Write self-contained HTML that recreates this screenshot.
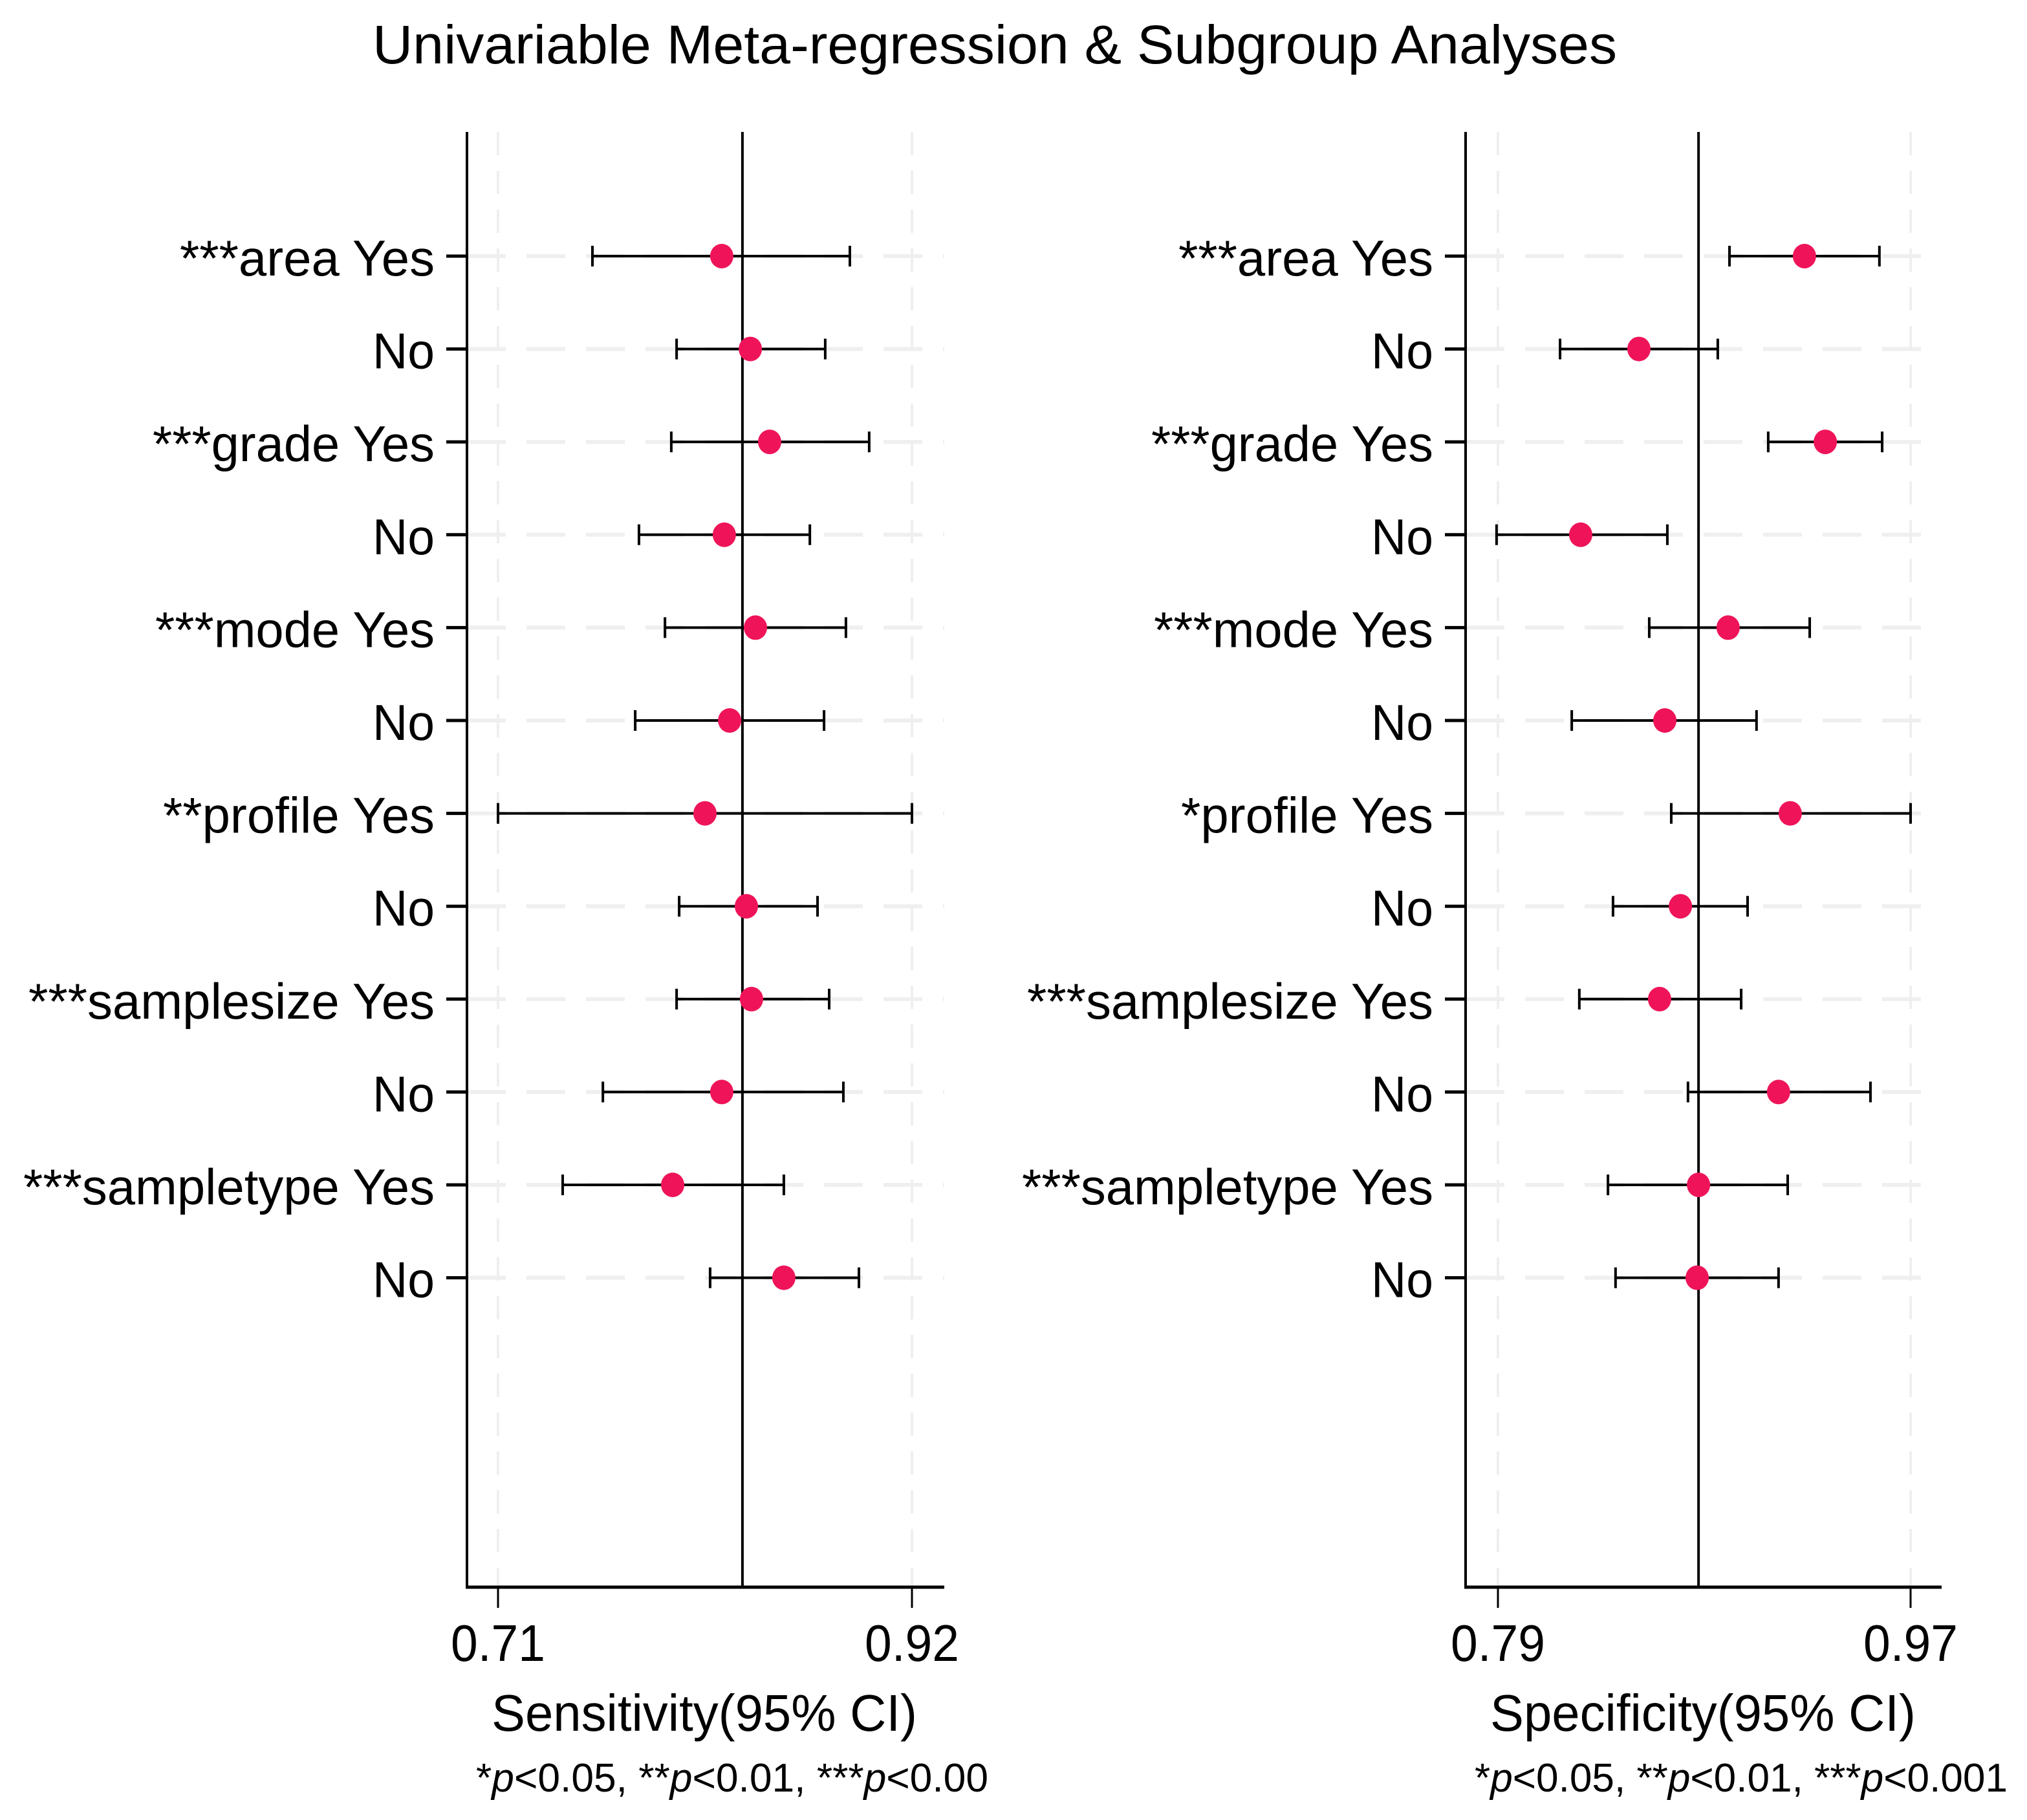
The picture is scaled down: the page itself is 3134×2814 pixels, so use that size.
<!DOCTYPE html>
<html><head><meta charset="utf-8">
<style>
html,body{margin:0;padding:0;background:#fff;}
svg{display:block;}
text{font-family:"Liberation Sans",Arial,sans-serif;fill:#000;}
</style></head>
<body>
<svg id="chart" width="3134" height="2814" viewBox="0 0 1567 1407" xmlns="http://www.w3.org/2000/svg">
<rect width="1567" height="1407" fill="#fff"/>
<text x="288" y="49" font-size="42" textLength="962" lengthAdjust="spacingAndGlyphs">Univariable Meta-regression &amp; Subgroup Analyses</text>
<g id="left"></g>
<g id="right"></g>
</svg>
<script>
const labelsLeft = ["***area Yes","No","***grade Yes","No","***mode Yes","No","**profile Yes","No","***samplesize Yes","No","***sampletype Yes","No"];
const labelsRight = ["***area Yes","No","***grade Yes","No","***mode Yes","No","*profile Yes","No","***samplesize Yes","No","***sampletype Yes","No"];
const sensEst = [0.8235,0.838,0.8478,0.8248,0.8406,0.8275,0.815,0.836,0.8386,0.8235,0.7986,0.855];
const sensLo  = [0.7579,0.8006,0.7979,0.7815,0.7947,0.7796,0.71,0.8019,0.8006,0.7632,0.7428,0.8176];
const sensHi  = [0.8885,0.876,0.8983,0.8682,0.8865,0.8754,0.92,0.8721,0.878,0.8852,0.855,0.8931];
const sensRef = 0.834;
const sensTicks = ["0.71","0.92"];
const specEst = [0.9237,0.8515,0.9328,0.8261,0.8904,0.8628,0.9175,0.8696,0.8605,0.9124,0.8775,0.8769];
const specLo  = [0.891,0.8171,0.9079,0.7894,0.856,0.8222,0.8656,0.8402,0.8255,0.8729,0.838,0.8413];
const specHi  = [0.9564,0.8859,0.9576,0.8639,0.926,0.9028,0.97,0.8989,0.8961,0.9525,0.9164,0.9124];
const specRef = 0.8775;
const specTicks = ["0.79","0.97"];

const NS="http://www.w3.org/2000/svg";
function mk(parent,tag,attrs){const e=document.createElementNS(NS,tag);for(const k in attrs)e.setAttribute(k,attrs[k]);parent.appendChild(e);return e;}

function panel(g,o){
  const x=v=>o.px0+(v-o.v0)/(o.v1-o.v0)*(o.px1-o.px0);
  const y=i=>198+i*71.8;
  const top=102,bot=1227;
  o.ticks.forEach(t=>{
    const gl=mk(g,'line',{x1:x(+t),x2:x(+t),y1:top,y2:bot,stroke:'#efefef','stroke-width':2,'stroke-dasharray':'18,12'});
    
    
  });
  o.labels.forEach((l,i)=>{
    const hl=mk(g,'line',{x1:o.ax,x2:o.axEnd,y1:y(i),y2:y(i),stroke:'#efefef','stroke-width':3,'stroke-dasharray':'30,16'});
    
    
  });
  const rl=mk(g,'line',{x1:x(o.ref),x2:x(o.ref),y1:top,y2:bot,stroke:'#000','stroke-width':2});
  
  
  const ya=mk(g,'line',{x1:o.ax,x2:o.ax,y1:top,y2:bot+1,stroke:'#000','stroke-width':2});
  
  
  const xa=mk(g,'line',{x1:o.ax-1,x2:o.axEnd,y1:bot,y2:bot,stroke:'#000','stroke-width':2.5});
  
  
  o.ticks.forEach(t=>{
    const tk=mk(g,'line',{x1:x(+t),x2:x(+t),y1:bot,y2:bot+16,stroke:'#000','stroke-width':1.5});
    
    
    const tl=mk(g,'text',{x:x(+t),y:bot+57,'font-size':40,'text-anchor':'middle',textLength:73,lengthAdjust:'spacingAndGlyphs'});
    tl.textContent=t;
    
    
  });
  o.labels.forEach((l,i)=>{
    const tk=mk(g,'line',{x1:o.ax-16,x2:o.ax,y1:y(i),y2:y(i),stroke:'#000','stroke-width':2.5});
    
    
    const t=mk(g,'text',{x:o.ax-25,y:y(i)+15,'font-size':39,'text-anchor':'end'});
    if(o.lw[i]) {t.setAttribute('textLength',o.lw[i]);t.setAttribute('lengthAdjust','spacingAndGlyphs');}
    t.textContent=l;
    
    
    const ci=mk(g,'path',{d:`M${x(o.lo[i])},${y(i)-8}V${y(i)+8}M${x(o.lo[i])},${y(i)}H${x(o.hi[i])}M${x(o.hi[i])},${y(i)-8}V${y(i)+8}`,stroke:'#000','stroke-width':2,fill:'none'});
    
    
    const d=mk(g,'ellipse',{cx:x(o.est[i]),cy:y(i),rx:9,ry:9.5,fill:'#ef1459'});
    
    
  });
  const xl=mk(g,'text',{x:o.xlx,y:1338,'font-size':40,textLength:o.xlw,lengthAdjust:'spacingAndGlyphs'});
  xl.textContent=o.xlabel;
  
  
  const fn=mk(g,'text',{x:o.fnx,y:1385,'font-size':31,textLength:o.fnw,lengthAdjust:'spacingAndGlyphs'});
  fn.innerHTML='*<tspan font-style="italic">p</tspan>&lt;0.05, **<tspan font-style="italic">p</tspan>&lt;0.01, ***<tspan font-style="italic">p</tspan>&lt;'+o.fnEnd;
  
  
}
panel(document.getElementById('left'),{px0:385,px1:705,v0:0.71,v1:0.92,ax:361,axEnd:730,ticks:sensTicks,ref:sensRef,
  labels:labelsLeft,est:sensEst,lo:sensLo,hi:sensHi,lw:[197,48,218,48,216,48,210,48,314,48,318,48],
  xlabel:'Sensitivity(95% CI)',xlx:380,xlw:329,fnx:368,fnw:396,fnEnd:'0.00'});
panel(document.getElementById('right'),{px0:1158,px1:1477,v0:0.79,v1:0.97,ax:1133,axEnd:1501,ticks:specTicks,ref:specRef,
  labels:labelsRight,est:specEst,lo:specLo,hi:specHi,lw:[197,48,218,48,216,48,195,48,314,48,318,48],
  xlabel:'Specificity(95% CI)',xlx:1152,xlw:329,fnx:1140,fnw:412,fnEnd:'0.001'});
</script>
</body></html>
